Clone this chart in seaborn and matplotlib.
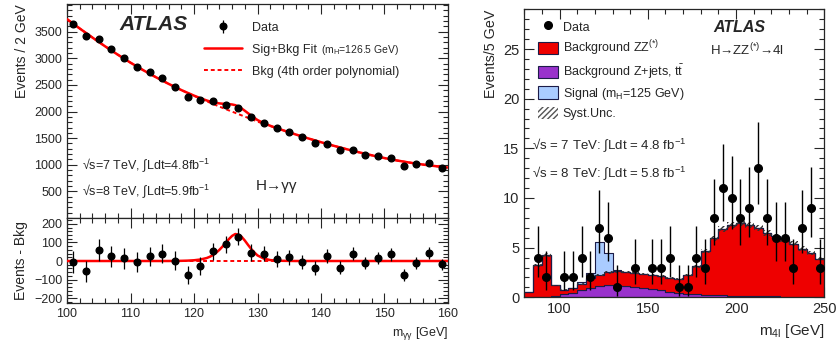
import numpy as np
import pandas as pd
import seaborn as sns
import matplotlib.pyplot as plt
from matplotlib.ticker import MultipleLocator
from matplotlib.patches import Patch
from matplotlib.lines import Line2D

# ---- H -> gamma gamma (2 GeV bins) ----
gg_mass = [101, 103, 105, 107, 109, 111, 113, 115, 117, 119, 121, 123, 125, 127, 129,
           131, 133, 135, 137, 139, 141, 143, 145, 147, 149, 151, 153, 155, 157, 159]
gg_events = [3644, 3419, 3356, 3169, 3006, 2838, 2738, 2625, 2463, 2275, 2219, 2194, 2125, 2075, 1894,
             1794, 1694, 1613, 1513, 1406, 1394, 1275, 1281, 1175, 1156, 1127, 983, 1014, 1033, 939]
gg_err = [60, 58, 58, 56, 55, 53, 52, 51, 50, 48, 47, 47, 46, 46, 44,
          42, 41, 40, 39, 37, 37, 36, 36, 34, 34, 34, 31, 32, 32, 31]
gg_resid = [-5, -56, 58, 25, 14, -7, 25, 38, 2, -77, -27, 52, 90, 130, 45,
            40, 11, 20, -5, -36, 27, -36, 40, -11, 16, 36, -75, -11, 41, -18]

# fitted curves
fit_x = [100, 102, 104, 106, 108, 110, 112, 114, 116, 118, 119, 120, 121,
         122, 122.5, 123, 123.5, 124, 124.5, 125, 125.5, 126, 126.5, 127, 127.5, 128, 128.5, 129, 129.5, 130,
         131, 132, 133, 134, 136, 138, 140, 142, 144, 146, 148, 150, 152, 154, 156, 158, 160]
fit_bkg = [3735, 3560, 3390, 3225, 3068, 2918, 2777, 2645, 2520, 2403, 2349, 2295, 2243,
           2192, 2167, 2142, 2118, 2093, 2069, 2045, 2021, 1998, 1975, 1951, 1928, 1905, 1882, 1860, 1837, 1810,
           1769, 1728, 1688, 1648, 1570, 1495, 1424, 1357, 1294, 1234, 1178, 1126, 1080, 1040, 1005, 975, 948]
fit_sig = [0, 0, 0, 0, 0, 0, 0, 0, 0, 1, 2, 4, 8,
           16, 23, 32, 45, 60, 78, 98, 118, 135, 145, 142, 130, 110, 87, 65, 46, 30,
           13, 5, 2, 1, 0, 0, 0, 0, 0, 0, 0, 0, 0, 0, 0, 0, 0]

# ---- H -> ZZ* -> 4l (5 GeV bins from 80 GeV) ----
bin_edges = list(range(80, 255, 5))
bkg_zz = [0.52, 3.19, 4.22, 1.08, 0.45, 0.45, 0.65, 1.0, 1.15, 1.3, 1.38, 1.4, 1.4, 1.4, 1.43, 1.4, 1.37,
          1.35, 1.87, 2.83, 4.38, 5.72, 6.65, 7.13, 7.3, 7.17, 6.84, 6.4, 6.06, 5.77, 5.33, 4.84, 4.4, 3.85]
bkg_zjets = [0.03, 0.06, 0.08, 0.12, 0.3, 0.45, 0.7, 0.95, 1.1, 1.2, 1.22, 1.15, 1.05, 0.95, 0.82, 0.7, 0.58,
             0.45, 0.38, 0.32, 0.27, 0.23, 0.2, 0.17, 0.15, 0.13, 0.11, 0.1, 0.09, 0.08, 0.07, 0.06, 0.05, 0.05]
sig_125 = [0, 0, 0, 0, 0, 0, 0.15, 0.5, 3.3, 1.95, 0.1, 0, 0, 0, 0, 0, 0,
           0, 0, 0, 0, 0, 0, 0, 0, 0, 0, 0, 0, 0, 0, 0, 0, 0]
syst_unc = [0.03, 0.15, 0.2, 0.06, 0.05, 0.06, 0.08, 0.1, 0.12, 0.13, 0.13, 0.13, 0.12, 0.12, 0.11, 0.11, 0.1,
            0.1, 0.11, 0.15, 0.2, 0.25, 0.28, 0.3, 0.3, 0.3, 0.3, 0.28, 0.26, 0.25, 0.24, 0.22, 0.2, 0.18]

d4l_mass = [87.5, 92.5, 102.5, 107.5, 112.5, 117.5, 122.5, 127.5, 132.5, 142.5,
            152.5, 157.5, 162.5, 167.5, 172.5, 177.5, 182.5, 187.5, 192.5, 197.5,
            202.5, 207.5, 212.5, 217.5, 222.5, 227.5, 232.5, 237.5, 242.5, 247.5]
d4l_events = [4, 2, 2, 2, 4, 2, 7, 6, 1, 3,
              3, 3, 4, 1, 1, 4, 3, 8, 11, 10,
              8, 9, 13, 8, 6, 6, 3, 7, 9, 3]
d4l_err_lo = [1.91, 1.29, 1.29, 1.29, 1.91, 1.29, 2.58, 2.38, 0.83, 1.63,
              1.63, 1.63, 1.91, 0.83, 0.83, 1.91, 1.63, 2.77, 3.27, 3.11,
              2.77, 2.94, 3.56, 2.77, 2.38, 2.38, 1.63, 2.58, 2.94, 1.63]
d4l_err_hi = [3.16, 2.64, 2.64, 2.64, 3.16, 2.64, 3.77, 3.58, 2.30, 2.92,
              2.92, 2.92, 3.16, 2.30, 2.30, 3.16, 2.92, 3.95, 4.42, 4.27,
              3.95, 4.11, 4.70, 3.95, 3.58, 3.58, 2.92, 3.77, 4.11, 2.92]

sns.set_style('ticks')
plt.rcParams['font.family'] = ['Liberation Sans', 'DejaVu Sans']
plt.rcParams['mathtext.fontset'] = 'custom'
plt.rcParams['mathtext.rm'] = 'Liberation Sans'
plt.rcParams['mathtext.it'] = 'Liberation Sans:italic'
plt.rcParams['mathtext.bf'] = 'Liberation Sans:bold'

fig = plt.figure(figsize=(8.4, 3.43), dpi=100)
ax1 = fig.add_axes([0.0798, 0.3644, 0.4535, 0.6239])
ax2 = fig.add_axes([0.0798, 0.1175, 0.4535, 0.2469], sharex=ax1)
ax3 = fig.add_axes([0.6242, 0.1332, 0.3571, 0.8397])


def root_ticks(ax, xmaj, xmin, ymaj, ymin, size=9):
    ax.xaxis.set_major_locator(MultipleLocator(xmaj))
    ax.xaxis.set_minor_locator(MultipleLocator(xmin))
    ax.yaxis.set_major_locator(MultipleLocator(ymaj))
    ax.yaxis.set_minor_locator(MultipleLocator(ymin))
    ax.tick_params(which='both', direction='in', top=True, right=True, labelsize=size, width=0.8)
    ax.tick_params(which='major', length=7)
    ax.tick_params(which='minor', length=3.5)
    for s in ax.spines.values():
        s.set_linewidth(0.9)


# ---- left top ----
fit_tot = np.array(fit_bkg) + np.array(fit_sig)
sns.lineplot(x=fit_x, y=fit_bkg, color='red', lw=1.4, linestyle=(0, (2, 1.5)), ax=ax1, zorder=2)
sns.lineplot(x=fit_x, y=fit_tot, color='red', lw=1.8, ax=ax1, zorder=3)
data_h = ax1.errorbar(gg_mass, gg_events, yerr=gg_err, fmt='o', color='black', ms=4.8,
                      elinewidth=0.9, capsize=0, zorder=4)
ax1.set_xlim(100, 160)
ax1.set_ylim(0, 4020)
root_ticks(ax1, 10, 2, 500, 100)
ax1.set_yticks([500, 1000, 1500, 2000, 2500, 3000, 3500])
plt.setp(ax1.get_xticklabels(), visible=False)
ax1.set_ylabel('Events / 2 GeV', fontsize=10, loc='top')
ax1.set_xlabel('')

h_fit = Line2D([], [], color='red', lw=1.8)
h_bkg = Line2D([], [], color='red', lw=1.4, linestyle=(0, (2, 1.5)))
ax1.legend([data_h, h_fit, h_bkg], ['Data', 'Sig+Bkg Fit', 'Bkg (4th order polynomial)'],
           loc='upper left', bbox_to_anchor=(0.36, 0.917), frameon=False, fontsize=9,
           handlelength=3.0, handletextpad=0.8, labelspacing=0.8, borderpad=0, borderaxespad=0)
ax1.text(0.666, 0.785, r'(m$_{\mathrm{H}}$=126.5 GeV)', transform=ax1.transAxes, fontsize=7.5,
         va='center', ha='left')
ax1.text(0.138, 0.906, 'ATLAS', transform=ax1.transAxes, fontsize=15, fontweight='bold',
         fontstyle='italic', va='center', ha='left')
ax1.text(0.039, 0.248, r'√s=7 TeV, ∫Ldt=4.8fb$^{-1}$', transform=ax1.transAxes, fontsize=9,
         va='center', ha='left')
ax1.text(0.039, 0.126, r'√s=8 TeV, ∫Ldt=5.9fb$^{-1}$', transform=ax1.transAxes, fontsize=9,
         va='center', ha='left')
ax1.text(0.496, 0.15, 'H→γγ', transform=ax1.transAxes, fontsize=11, va='center', ha='left')

# ---- left bottom ----
ax2.axhline(0, color='red', lw=1.4, linestyle=(0, (2, 1.5)), zorder=2)
sns.lineplot(x=fit_x, y=fit_sig, color='red', lw=1.8, ax=ax2, zorder=3)
ax2.errorbar(gg_mass, gg_resid, yerr=gg_err, fmt='o', color='black', ms=4.8,
             elinewidth=0.9, capsize=0, zorder=4)
ax2.set_ylim(-224, 231)
root_ticks(ax2, 10, 2, 100, 20)
ax2.set_xlim(100, 160)
ax2.set_ylabel('Events - Bkg', fontsize=10)
ax2.set_xlabel(r'm$_{\mathrm{γγ}}$ [GeV]', fontsize=9, loc='right')

# ---- right: H -> ZZ -> 4l ----
centers = np.array(bin_edges[:-1]) + 2.5
procs = ['Signal', 'ZZ', 'Zjets']
df = pd.DataFrame({
    'm': np.concatenate([centers, centers, centers]),
    'w': sig_125 + bkg_zz + bkg_zjets,
    'proc': np.repeat(procs, len(centers)),
})
pal = {'Signal': '#aaccff', 'ZZ': '#ee0000', 'Zjets': '#9932cc'}
sns.histplot(data=df, x='m', weights='w', hue='proc', hue_order=procs, multiple='stack',
             bins=bin_edges, element='step', palette=pal, alpha=1, edgecolor='#1c1c48',
             linewidth=0.8, legend=False, ax=ax3)
tot = np.array(bkg_zz) + np.array(bkg_zjets)
unc = np.array(syst_unc)
ax3.stairs(tot + unc, bin_edges, baseline=tot - unc, fill=True, facecolor='none',
           edgecolor='#333333', hatch='//////', linewidth=0, zorder=3)
ax3.errorbar(d4l_mass, d4l_events, yerr=[d4l_err_lo, d4l_err_hi], fmt='o', color='black',
             ms=5.5, elinewidth=1.0, capsize=0, zorder=5)
ax3.set_xlim(80, 250)
ax3.set_ylim(0, 29)
root_ticks(ax3, 50, 10, 5, 1, size=10.5)
ax3.set_ylabel('Events/5 GeV', fontsize=10.3, loc='top')
ax3.set_xlabel(r'm$_{\mathrm{4l}}$ [GeV]', fontsize=11, loc='right')

hnd = [Line2D([], [], marker='o', color='black', ls='none', ms=5.5),
       Patch(facecolor='#ee0000', edgecolor='#1c1c48', lw=0.8),
       Patch(facecolor='#9932cc', edgecolor='#1c1c48', lw=0.8),
       Patch(facecolor='#aaccff', edgecolor='#1c1c48', lw=0.8),
       Patch(facecolor='none', edgecolor='#555555', hatch='//////', lw=0)]
lab = ['Data', r'Background ZZ$^{(*)}$', r'Background Z+jets, t$\bar{\mathrm{t}}$',
       r'Signal (m$_{\mathrm{H}}$=125 GeV)', 'Syst.Unc.']
ax3.legend(hnd, lab, loc='upper left', bbox_to_anchor=(0.046, 0.962), frameon=False, fontsize=9,
           handlelength=1.6, handleheight=1.15, handletextpad=0.35, labelspacing=0.38,
           borderpad=0, borderaxespad=0)
ax3.text(0.716, 0.936, 'ATLAS', transform=ax3.transAxes, fontsize=11.5, fontweight='bold',
         fontstyle='italic', va='center', ha='center')
ax3.text(0.741, 0.859, r'H→ZZ$^{(*)}$→4l', transform=ax3.transAxes, fontsize=9.5,
         va='center', ha='center')
ax3.text(0.025, 0.529, r'√s = 7 TeV: ∫Ldt = 4.8 fb$^{-1}$', transform=ax3.transAxes, fontsize=9.5,
         va='center', ha='left')
ax3.text(0.025, 0.43, r'√s = 8 TeV: ∫Ldt = 5.8 fb$^{-1}$', transform=ax3.transAxes, fontsize=9.5,
         va='center', ha='left')

fig.savefig('out.png', dpi=100)
